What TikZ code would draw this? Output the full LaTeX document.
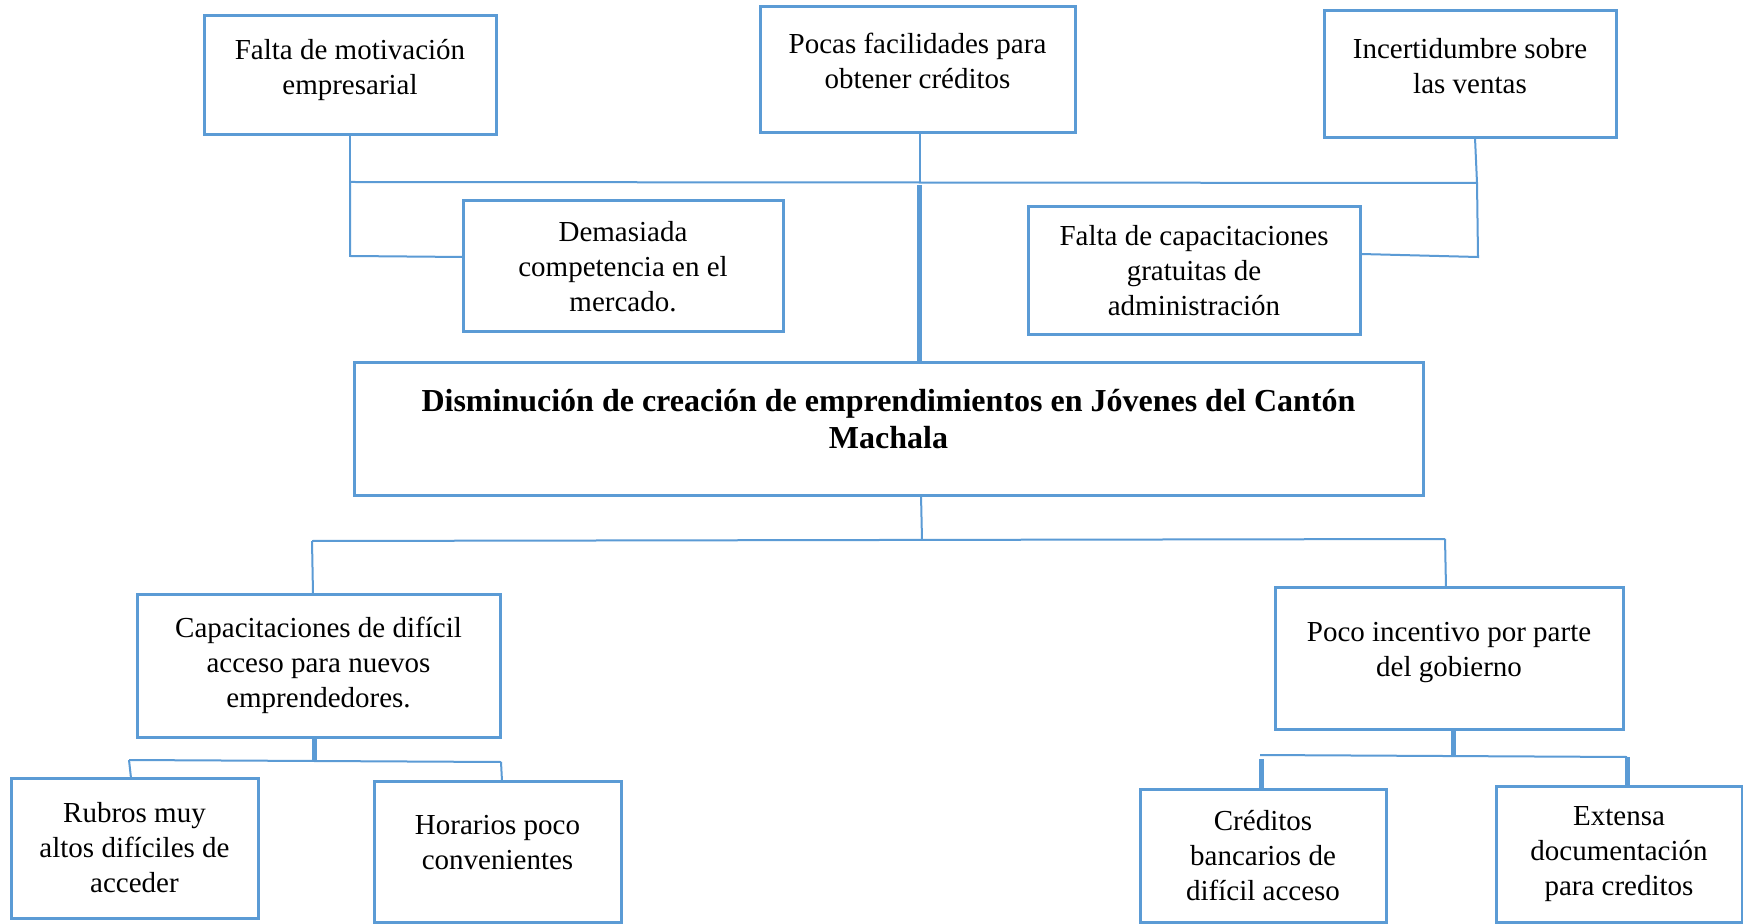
\documentclass[tikz,border=0pt]{standalone}
\usepackage{fontspec}
\setmainfont{Liberation Serif}
\definecolor{lineblue}{HTML}{5B9BD5}
\begin{document}
\begin{tikzpicture}[x=0.5pt,y=-0.5pt,
  box/.style 2 args={draw=lineblue,line width=1.5pt,rectangle,inner sep=0pt,align=center,
    minimum width=#1*0.5pt,minimum height=#2*0.5pt,
    font=\fontsize{14.5pt}{17.5pt}\selectfont},
  thin/.style={draw=lineblue,line width=1pt},
  thick/.style={draw=lineblue,line width=2.5pt}]
\useasboundingbox (0,0) rectangle (1743,924);
\fill[white] (0,0) rectangle (1743,924);
% top boxes
\node[box={292}{119}] (mot) at (350,75.5) {Falta de motivación\\empresarial\\[-8.5pt]\mbox{}};
\node[box={315}{126}] (poc) at (917.5,70) {Pocas facilidades para\\obtener créditos\\[-8.5pt]\mbox{}};
\node[box={292}{127}] (inc) at (1470,74.5) {Incertidumbre sobre\\las ventas\\[-8.5pt]\mbox{}};
\node[box={320}{131}] (dem) at (623,266.5) {Demasiada\\competencia en el\\mercado.};
\node[box={332}{128}] (cag) at (1194,271) {Falta de capacitaciones\\gratuitas de\\administración};
% main
\node[box={1069}{132},font=\fontsize{16pt}{18.5pt}\selectfont\bfseries] (main) at (888.5,429)
  {Disminución de creación de emprendimientos en Jóvenes del Cantón\\Machala\\[-8.5pt]\mbox{}};
% lower boxes
\node[box={363}{143}] (cad) at (318.5,665.5) {Capacitaciones de difícil\\acceso para nuevos\\emprendedores.};
\node[box={348}{142}] (inv) at (1449,658) {Poco incentivo por parte\\del gobierno\\[-8.5pt]\mbox{}};
\node[box={247}{140}] (rub) at (134.5,848) {Rubros muy\\altos difíciles de\\acceder};
\node[box={247}{141}] (hor) at (497.5,851.5) {Horarios poco\\convenientes\\[-8.5pt]\mbox{}};
\node[box={246}{133}] (cre) at (1263,855.5) {Créditos\\bancarios de\\difícil acceso};
\node[box={246}{136}] (ext) at (1619,854) {Extensa\\documentación\\para creditos};
% top connector coordinates
\coordinate (tl) at (350,182);
\coordinate (tm) at (920,182);
\coordinate (tr) at (1477,183);
\coordinate (ir) at (1475,138);
\coordinate (ll) at (350,256);
\coordinate (dl) at (463,257);
\coordinate (rr) at (1478,257);
\coordinate (cr) at (1361,254);
\coordinate (mt) at (919,185);
\coordinate (mtb) at (919,363);
\draw[thin] (mot.south) -- (tl);
\draw[thin] (poc.south -| tm) -- (tm);
\draw[thin] (ir) -- (tr);
\draw[thin] (tl) -- (tr);
\draw[thin] (tl) -- (ll) -- (dl);
\draw[thin] (tr) -- (rr) -- (cr);
\draw[thick] (mt) -- (mtb);
% bottom connectors
\coordinate (mb) at (921,495);
\coordinate (bm) at (922,540);
\coordinate (bl) at (312,541);
\coordinate (br) at (1445,539);
\coordinate (cadt) at (313,594);
\coordinate (invt) at (1446,588);
\draw[thin] (mb) -- (bm);
\draw[thin] (bl) -- (br);
\draw[thin] (bl) -- (cadt);
\draw[thin] (br) -- (invt);
% left sub-branch
\coordinate (cb1) at (314,737);
\coordinate (cb2) at (314,761);
\coordinate (hl) at (129,760);
\coordinate (hr) at (501,762);
\coordinate (rubt) at (131,778);
\coordinate (hort) at (502,781);
\draw[thick] (cb1) -- (cb2);
\draw[thin] (hl) -- (hr);
\draw[thin] (hl) -- (rubt);
\draw[thin] (hr) -- (hort);
% right sub-branch
\coordinate (ib1) at (1453,729);
\coordinate (ib2) at (1453,756);
\coordinate (jl) at (1260,755);
\coordinate (jr) at (1627,757);
\coordinate (jl2) at (1261,759);
\coordinate (cret) at (1261,789);
\coordinate (extt) at (1627,786);
\draw[thick] (ib1) -- (ib2);
\draw[thin] (jl) -- (jr);
\draw[thick] (jl2) -- (cret);
\draw[thick] (jr) -- (extt);
\end{tikzpicture}
\end{document}
